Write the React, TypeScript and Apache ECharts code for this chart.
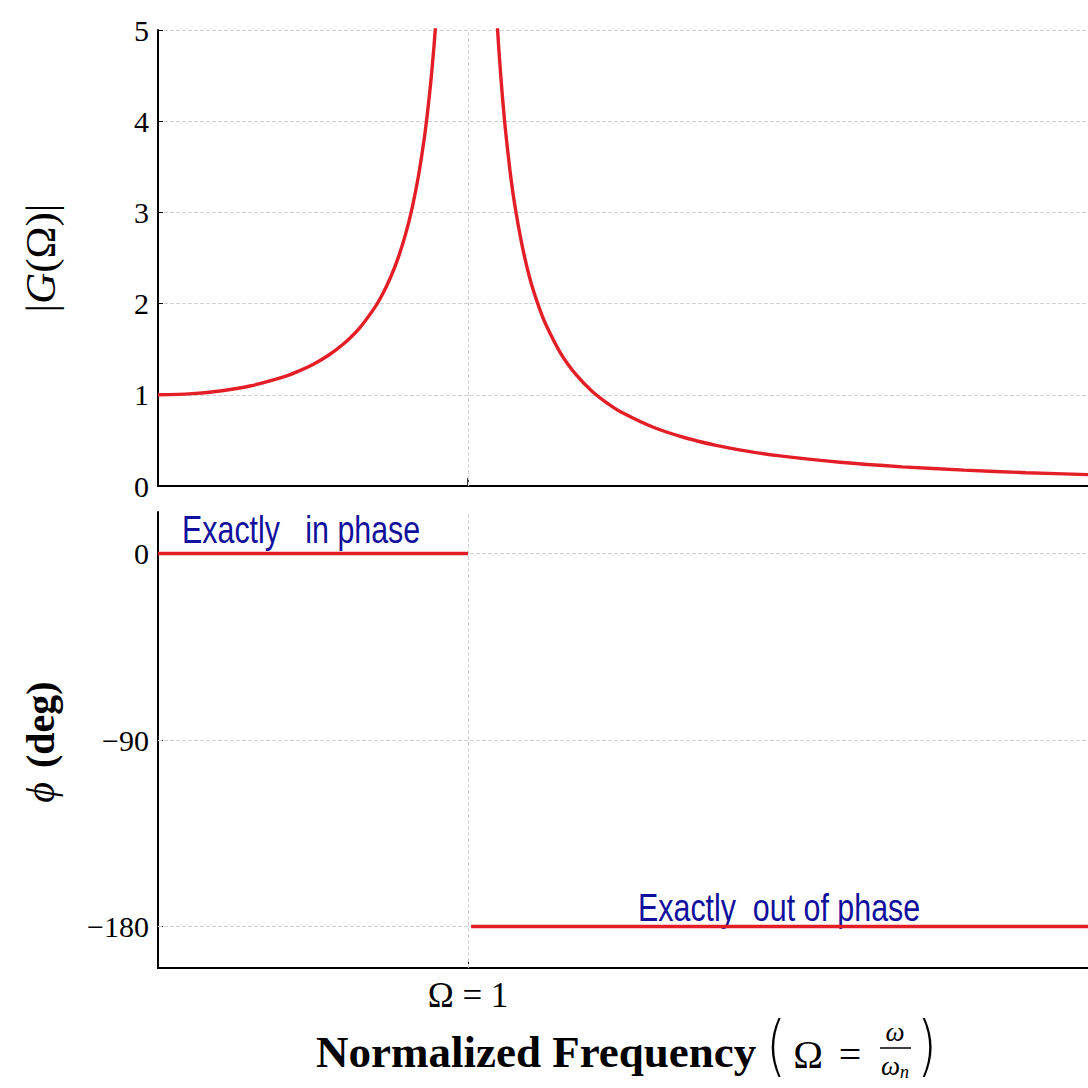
import React, { useEffect, useRef } from "react";
import * as echarts from "echarts";

// Magnitude |G(Ω)| (left of resonance)
const magLeftOmega = [0, 0.1, 0.2, 0.3, 0.4, 0.45, 0.5, 0.55, 0.6, 0.65, 0.7, 0.725, 0.75, 0.775, 0.8, 0.82, 0.84, 0.86, 0.87, 0.88, 0.89, 0.9, 0.91];
const magLeftValue = [1.0, 1.01, 1.042, 1.099, 1.19, 1.254, 1.333, 1.434, 1.5625, 1.731, 1.961, 2.108, 2.286, 2.504, 2.778, 3.053, 3.397, 3.838, 4.114, 4.43, 4.81, 5.26, 5.82];
// Magnitude right of resonance
const magRightOmega = [1.08, 1.09, 1.1, 1.11, 1.12, 1.135, 1.15, 1.175, 1.2, 1.225, 1.25, 1.3, 1.35, 1.4, 1.45, 1.5, 1.6, 1.7, 1.8, 1.9, 2.0, 2.2, 2.4, 2.6, 2.8, 3.0];
const magRightValue = [6.01, 5.31, 4.76, 4.31, 3.93, 3.47, 3.1, 2.63, 2.27, 2.0, 1.78, 1.45, 1.215, 1.04, 0.907, 0.8, 0.641, 0.529, 0.446, 0.383, 0.333, 0.26, 0.21, 0.174, 0.146, 0.125];
// Phase (deg)
const phaseInOmega = [0, 1];
const phaseInValue = [0, 0];
const phaseOutOmega = [1.01, 3];
const phaseOutValue = [-180, -180];
// Ticks
const phaseTicks = [0, -90, -180];
const freqTicks = [1];
const freqTickLabel = "Ω = 1";

const zip = (xs: number[], ys: number[]) => xs.map((x, i) => [x, ys[i]]);

const SERIF = "'Liberation Serif', 'DejaVu Serif', serif";
const HAND = "'Liberation Sans Narrow', 'Liberation Sans', sans-serif";
const RED = "#e41e26";
const GRID = "#d2d2d2";
const INK = "#10109c";

export default function App() {
  const ref = useRef<HTMLDivElement>(null);
  useEffect(() => {
    if (!ref.current) return;
    const chart = echarts.init(ref.current, undefined, { renderer: "svg" });
    const axisLine = { show: true, onZero: false, lineStyle: { color: "#000", width: 2 } };
    const gridLine = { type: "dashed" as const, color: GRID, width: 1 };
    const lineSeries = (data: number[][], xi: number, extra: any = {}) => ({
      type: "line",
      xAxisIndex: xi,
      yAxisIndex: xi,
      data,
      showSymbol: false,
      symbol: "none",
      smooth: 0.2,
      clip: true,
      lineStyle: { color: RED, width: 3.4 },
      z: 3,
      ...extra,
    });
    const option: any = {
      animation: false,
      backgroundColor: "#fff",
      grid: [
        { left: 158, top: 30, width: 933, height: 456 },
        { left: 158, top: 512, width: 933, height: 456 },
      ],
      xAxis: [
        {
          gridIndex: 0,
          type: "value",
          min: 0,
          max: 3,
          axisLine,
          axisTick: { show: true, inside: true, length: 8, customValues: freqTicks, lineStyle: { color: "#000", width: 1.5 } },
          axisLabel: { show: false },
          splitLine: { show: false },
        },
        {
          gridIndex: 1,
          type: "value",
          min: 0,
          max: 3,
          axisLine,
          axisTick: { show: true, inside: true, length: 6, customValues: freqTicks, lineStyle: { color: "#000", width: 1 } },
          axisLabel: {
            show: true,
            customValues: freqTicks,
            formatter: () => freqTickLabel,
            fontFamily: SERIF,
            fontSize: 35,
            color: "#000",
            margin: 10,
          },
          splitLine: { show: false },
        },
      ],
      yAxis: [
        {
          gridIndex: 0,
          type: "value",
          min: 0,
          max: 5,
          interval: 1,
          axisLine,
          axisTick: { show: true, inside: true, length: 5, lineStyle: { color: "#000" } },
          axisLabel: { fontFamily: SERIF, fontSize: 30, color: "#000", margin: 9 },
          splitLine: { show: true, lineStyle: gridLine },
        },
        {
          gridIndex: 1,
          type: "value",
          min: -200,
          max: 20,
          axisLine,
          axisTick: { show: true, inside: true, length: 5, customValues: phaseTicks, lineStyle: { color: "#000" } },
          axisLabel: {
            customValues: phaseTicks,
            fontFamily: SERIF,
            fontSize: 30,
            color: "#000",
            margin: 9,
            formatter: (v: number) => (v < 0 ? "\u2212" + Math.abs(v) : String(v)),
          },
          splitLine: { show: false },
        },
      ],
      series: [
        {
          type: "line",
          xAxisIndex: 0,
          yAxisIndex: 0,
          data: [],
          markLine: {
            silent: true,
            symbol: "none",
            z: 1,
            label: { show: false },
            lineStyle: gridLine,
            data: [{ xAxis: 1 }],
          },
        },
        lineSeries(zip(magLeftOmega, magLeftValue), 0),
        lineSeries(zip(magRightOmega, magRightValue), 0),
        {
          type: "line",
          xAxisIndex: 1,
          yAxisIndex: 1,
          data: [],
          markLine: {
            silent: true,
            symbol: "none",
            z: 1,
            label: { show: false },
            lineStyle: gridLine,
            data: [...phaseTicks.map((v) => ({ yAxis: v })), { xAxis: 1 }],
          },
        },
        lineSeries(zip(phaseInOmega, phaseInValue), 1, { smooth: false }),
        lineSeries(zip(phaseOutOmega, phaseOutValue), 1, { smooth: false }),
      ],
      graphic: [
        // y-axis title, top
        {
          type: "text",
          x: 40,
          y: 258,
          rotation: Math.PI / 2,
          style: {
            text: "{n||}{i|G}{n|(Ω)|}",
            align: "center",
            verticalAlign: "middle",
            rich: {
              n: { fontFamily: SERIF, fontSize: 43, fill: "#000" },
              i: { fontFamily: SERIF, fontSize: 43, fontStyle: "italic", fill: "#000" },
            },
          },
        },
        // y-axis title, bottom
        {
          type: "text",
          x: 40,
          y: 742,
          rotation: Math.PI / 2,
          style: {
            text: "{i|ϕ}{s| }{b|(deg)}",
            align: "center",
            verticalAlign: "middle",
            rich: {
              i: { fontFamily: SERIF, fontSize: 40, fontStyle: "italic", fill: "#000" },
              s: { fontFamily: SERIF, fontSize: 40, width: 14, fill: "#000" },
              b: { fontFamily: SERIF, fontSize: 40, fontWeight: "bold", fill: "#000" },
            },
          },
        },
        // x-axis title
        {
          type: "text",
          x: 316,
          y: 1052,
          style: {
            text: "Normalized Frequency",
            fontFamily: SERIF,
            fontSize: 45,
            fontWeight: "bold",
            fill: "#000",
            align: "left",
            verticalAlign: "middle",
          },
        },
        {
          type: "text",
          x: 776,
          y: 1046,
          scaleY: 1.3,
          style: { text: "(", fontFamily: "'DejaVu Sans'", fontWeight: 200, fontSize: 50, fill: "#000", align: "center", verticalAlign: "middle" },
        },
        {
          type: "text",
          x: 808,
          y: 1054,
          style: { text: "Ω", fontFamily: SERIF, fontSize: 40, fill: "#000", align: "center", verticalAlign: "middle" },
        },
        {
          type: "text",
          x: 850,
          y: 1054,
          style: { text: "=", fontFamily: SERIF, fontSize: 40, fill: "#000", align: "center", verticalAlign: "middle" },
        },
        {
          type: "text",
          x: 895,
          y: 1032,
          style: { text: "ω", fontFamily: SERIF, fontSize: 27, fontStyle: "italic", fill: "#000", align: "center", verticalAlign: "middle" },
        },
        {
          type: "line",
          shape: { x1: 880, y1: 1048, x2: 911, y2: 1048 },
          style: { stroke: "#000", lineWidth: 1.5 },
        },
        {
          type: "text",
          x: 895,
          y: 1066,
          style: {
            text: "{w|ω}{s|n}",
            align: "center",
            verticalAlign: "middle",
            rich: {
              w: { fontFamily: SERIF, fontSize: 27, fontStyle: "italic", fill: "#000" },
              s: { fontFamily: SERIF, fontSize: 18, fontStyle: "italic", fill: "#000", padding: [12, 0, 0, 0] },
            },
          },
        },
        {
          type: "text",
          x: 927,
          y: 1046,
          scaleY: 1.3,
          style: { text: ")", fontFamily: "'DejaVu Sans'", fontWeight: 200, fontSize: 50, fill: "#000", align: "center", verticalAlign: "middle" },
        },
        // handwritten annotations
        {
          type: "text",
          x: 182,
          y: 530,
          scaleX: 0.8,
          style: {
            text: "Exactly   in phase",
            fontFamily: HAND,
            fontSize: 38,
            fill: INK,
            align: "left",
            verticalAlign: "middle",
          },
        },
        {
          type: "text",
          x: 638,
          y: 908,
          scaleX: 0.8,
          style: {
            text: "Exactly  out of phase",
            fontFamily: HAND,
            fontSize: 38,
            fill: INK,
            align: "left",
            verticalAlign: "middle",
          },
        },
      ],
    };
    chart.setOption(option);
    return () => chart.dispose();
  }, []);
  return (
    <div
      ref={ref}
      style={{ position: "fixed", left: 0, top: 0, width: 1088, height: 1088, background: "#fff" }}
    />
  );
}
